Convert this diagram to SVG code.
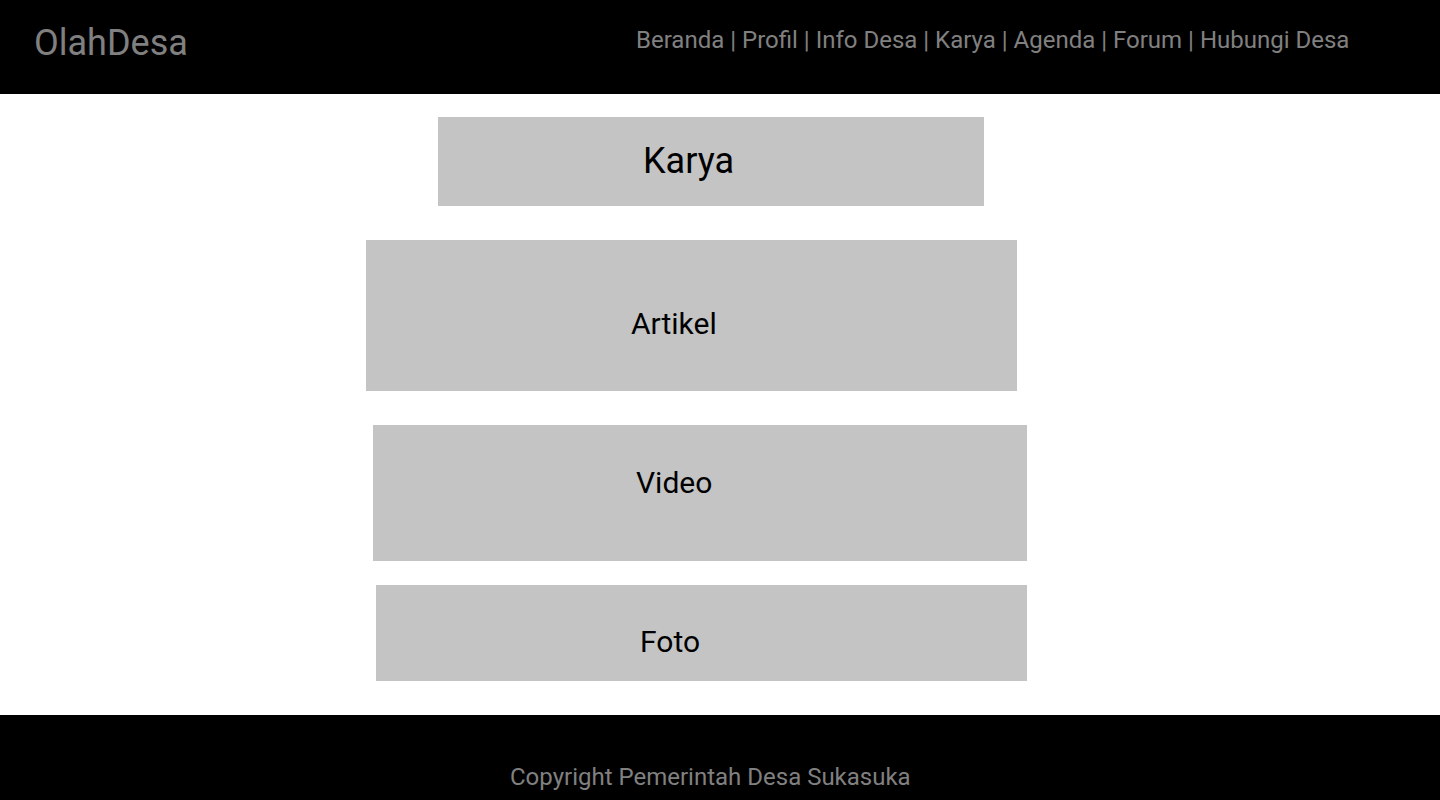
<svg xmlns="http://www.w3.org/2000/svg" width="1440" height="800" viewBox="0 0 1440 800">
<style>
.bar{fill:#000}
.box{fill:#C4C4C4}
.gt{font-family:Roboto,"Liberation Sans",sans-serif;fill:#808080}
.bt{font-family:Roboto,"Liberation Sans",sans-serif;fill:#000}
</style>
<rect width="1440" height="800" fill="#fff"/>
<g id="header">
<rect class="bar" x="0" y="0" width="1440" height="94"/>
<text class="gt" x="34" y="55" font-size="36">OlahDesa</text>
<text class="gt" x="636" y="48" font-size="24">Beranda | Profil | Info Desa | Karya | Agenda | Forum | Hubungi Desa</text>
</g>
<g id="karya">
<rect class="box" x="438" y="117" width="546" height="89"/>
<text class="bt" x="643" y="173" font-size="36">Karya</text>
</g>
<g id="artikel">
<rect class="box" x="366" y="240" width="651" height="151"/>
<text class="bt" x="631" y="334" font-size="30">Artikel</text>
</g>
<g id="video">
<rect class="box" x="373" y="425" width="654" height="136"/>
<text class="bt" x="636" y="493" font-size="30">Video</text>
</g>
<g id="foto">
<rect class="box" x="376" y="585" width="651" height="96"/>
<text class="bt" x="640" y="652" font-size="30">Foto</text>
</g>
<g id="footer">
<rect class="bar" x="0" y="715" width="1440" height="85"/>
<text class="gt" x="510" y="785" font-size="24">Copyright Pemerintah Desa Sukasuka</text>
</g>
<g id="connectors"/>
</svg>
